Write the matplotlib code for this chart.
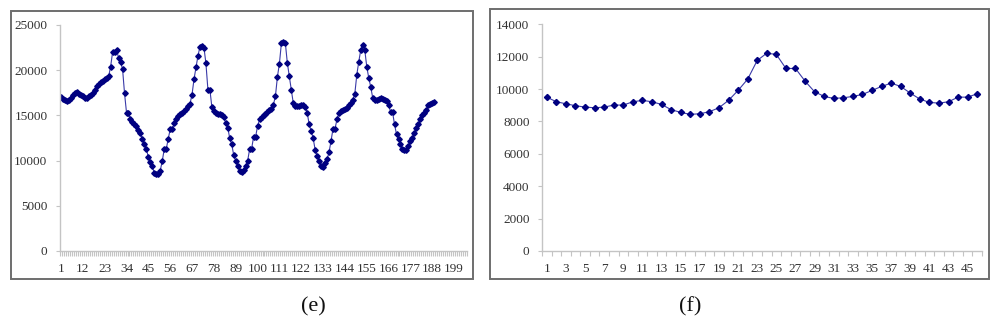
import matplotlib
matplotlib.use("Agg")
import matplotlib.pyplot as plt
from matplotlib.patches import Rectangle
from matplotlib.ticker import FixedLocator, NullFormatter

# --- data ---
# panel (e): 189 observations on a 205-slot category axis
e_values = [
    17000, 16850, 16650, 16550, 16650, 16900, 17250, 17450, 17550, 17400,
    17250, 17100, 16950, 16900, 17100, 17300, 17500, 17800, 18250, 18450,
    18650, 18800, 19000, 19150, 19300, 20400, 22000, 22000, 22250, 21350,
    20850, 20150, 17450, 15300, 15300, 14550, 14250, 14000, 13800, 13400,
    13000, 12400, 11850, 11300, 10350, 9800, 9350, 8600, 8500, 8500,
    8900, 9950, 11250, 11250, 12400, 13450, 13450, 14100, 14600, 14900,
    15100, 15300, 15500, 15700, 16000, 16300, 17300, 19000, 20300, 21600,
    22600, 22650, 22500, 20750, 17850, 17850, 15900, 15450, 15300, 15200,
    15100, 15000, 14850, 14100, 13650, 12450, 11800, 10600, 9970, 9420,
    8870, 8690, 9000, 9450, 9950, 11250, 11300, 12600, 12600, 13800,
    14550, 14850, 15050, 15200, 15350, 15550, 15700, 16200, 17100, 19250,
    20700, 22950, 23150, 23000, 20800, 19300, 17850, 16350, 16000, 16000,
    16050, 16200, 16100, 15900, 15300, 14000, 13250, 12500, 11200, 10500,
    9950, 9350, 9250, 9700, 10150, 10900, 12150, 13500, 13500, 14550,
    15250, 15450, 15550, 15650, 15800, 16100, 16350, 16750, 17400, 19500,
    20950, 22250, 22800, 22250, 20400, 19150, 18150, 16950, 16750, 16750,
    16850, 16900, 16850, 16700, 16550, 16200, 15350, 15350, 14000, 12900,
    12350, 11800, 11250, 11150, 11200, 11650, 12200, 12550, 13100, 13550,
    14000, 14550, 15000, 15300, 15600, 16100, 16300, 16400, 16450,
]
e_slots = 205
e_label_step = 11
e_yticks = [0, 5000, 10000, 15000, 20000, 25000]

# panel (f): 46 observations
f_values = [
    9500, 9215, 9090, 8970, 8885, 8845, 8885, 9010, 9010, 9215,
    9300, 9215, 9050, 8725, 8560, 8435, 8475, 8600, 8845, 9300,
    9915, 10610, 11765, 12215, 12135, 11270, 11270, 10490, 9830, 9545,
    9420, 9460, 9545, 9665, 9915, 10160, 10365, 10160, 9750, 9380,
    9175, 9130, 9215, 9500, 9500, 9710,
]
f_label_step = 2
f_yticks = [0, 2000, 4000, 6000, 8000, 10000, 12000, 14000]

panel_labels = ["(e)", "(f)"]

LINE = "#3a3aa8"
MARK = "#000080"
AXIS = "#c4c4c4"
TEXT = "#333333"
SERIF = ["Liberation Serif", "DejaVu Serif"]


def style_axes(ax, n_slots, label_step, yticks, ymax):
    ax.set_xlim(0.5, n_slots + 0.5)
    ax.set_ylim(0, ymax)
    for side in ("top", "right"):
        ax.spines[side].set_visible(False)
    for side in ("left", "bottom"):
        ax.spines[side].set_color(AXIS)
        ax.spines[side].set_linewidth(1.0)
    ax.set_yticks(yticks)
    ax.set_yticklabels([str(v) for v in yticks])
    ax.xaxis.set_major_locator(FixedLocator(list(range(1, n_slots + 1, label_step))))
    ax.set_xticklabels([str(v) for v in range(1, n_slots + 1, label_step)])
    ax.xaxis.set_minor_locator(FixedLocator([i + 0.5 for i in range(n_slots + 1)]))
    ax.xaxis.set_minor_formatter(NullFormatter())
    ax.tick_params(axis="x", which="major", length=0, pad=9, labelsize=9.5, labelcolor=TEXT)
    ax.tick_params(axis="x", which="minor", length=3.5, width=0.8, color=AXIS, direction="out")
    ax.tick_params(axis="y", length=3, width=0.8, color=AXIS, pad=6, labelsize=9.5, labelcolor=TEXT)
    for lab in ax.get_xticklabels() + ax.get_yticklabels():
        lab.set_family(SERIF)


fig = plt.figure(figsize=(10, 3.31), dpi=100)

# outer frames around each chart
fig.add_artist(Rectangle((0.011, 0.157), 0.462, 0.810, transform=fig.transFigure,
                         fill=False, edgecolor="#6e6e6e", linewidth=1.4))
fig.add_artist(Rectangle((0.490, 0.157), 0.499, 0.816, transform=fig.transFigure,
                         fill=False, edgecolor="#6e6e6e", linewidth=1.4))

ax_e = fig.add_axes([0.060, 0.2417, 0.407, 0.683])
ax_e.plot(range(1, len(e_values) + 1), e_values, color=LINE, linewidth=0.8,
          marker="D", markersize=2.8, markerfacecolor=MARK, markeredgecolor=MARK)
style_axes(ax_e, e_slots, e_label_step, e_yticks, 25000)

ax_f = fig.add_axes([0.542, 0.2417, 0.440, 0.685])
ax_f.plot(range(1, len(f_values) + 1), f_values, color=LINE, linewidth=0.8,
          marker="D", markersize=3.1, markerfacecolor=MARK, markeredgecolor=MARK)
style_axes(ax_f, len(f_values), f_label_step, f_yticks, 14000)

fig.text(0.313, 0.073, panel_labels[0], ha="center", va="center", fontsize=16, family=SERIF, color="#111111")
fig.text(0.690, 0.073, panel_labels[1], ha="center", va="center", fontsize=16, family=SERIF, color="#111111")

fig.savefig("out.png", dpi=100, facecolor="white")
